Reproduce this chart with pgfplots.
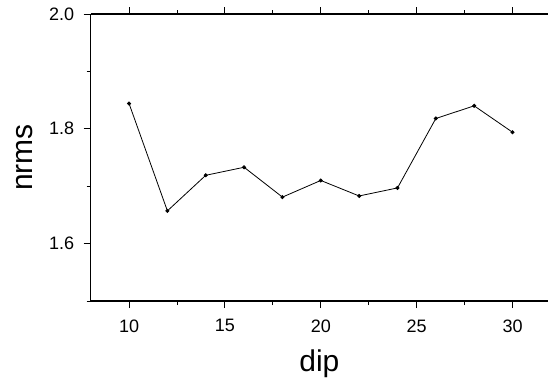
\documentclass[border=0pt]{standalone}
\usepackage{fontspec}
\setmainfont{Liberation Sans}
\usepackage{pgfplots}
\pgfplotsset{compat=1.18}
\begin{document}
\begin{tikzpicture}
\path[use as bounding box] (-90.7pt,-79pt) rectangle (457.3pt,301pt);
\begin{axis}[
  at={(0pt,0pt)}, anchor=south west,
  scale only axis, width=457.3pt, height=287pt,
  xmin=8, xmax=31.85, ymin=1.5, ymax=2.0,
  axis x line*=box, axis y line*=left,
  axis line style={line width=1.2pt, black},
  tick align=outside,
  major tick length=7pt, minor tick length=4pt,
  every tick/.style={black, line width=0.9pt},
  xtick={10,15,20,25,30}, minor xtick={12.5,17.5,22.5,27.5},
  ytick={1.6,1.8,2.0}, minor ytick={1.5,1.7,1.9},
  yticklabel style={/pgf/number format/fixed, /pgf/number format/fixed zerofill, /pgf/number format/precision=1, xshift=-6pt},
  xticklabel style={yshift=-8pt},
  /pgf/number format/assume math mode=true,
  tick label style={font=\fontsize{18}{22}\selectfont, black},
  xlabel={dip}, ylabel={nrms},
  label style={font=\fontsize{30}{36}\selectfont},
  xlabel style={at={(axis description cs:0.5,-0.2463)}, anchor=base},
  ylabel style={at={(axis description cs:-0.1277,0.5)}, anchor=base},
  clip=false,
]
\addplot[black, line width=0.8pt, mark=*, mark size=1.6pt] coordinates {
(10,1.844) (12,1.657) (14,1.719) (16,1.733) (18,1.681) (20,1.710)
(22,1.683) (24,1.697) (26,1.818) (28,1.840) (30,1.794)
};
\end{axis}
\end{tikzpicture}
\end{document}
